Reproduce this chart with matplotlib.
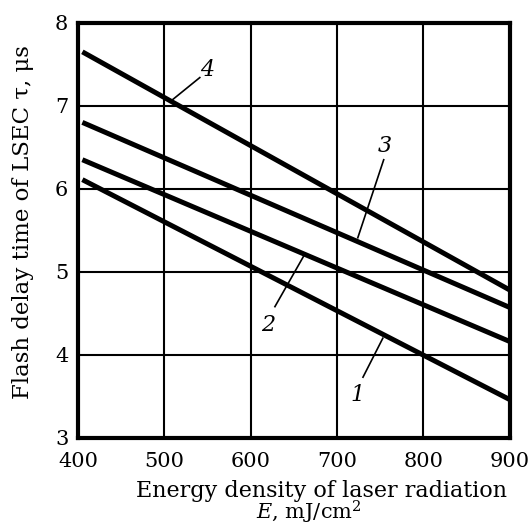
import matplotlib
matplotlib.use("Agg")
import matplotlib.pyplot as plt

plt.rcParams['font.family'] = ['DejaVu Serif']
plt.rcParams['mathtext.fontset'] = 'dejavuserif'

# energy density endpoints of each straight line, mJ/cm^2
energy = [405, 900]
# flash delay time at each endpoint, us
curve1 = [6.11, 3.46]
curve2 = [6.35, 4.16]
curve3 = [6.80, 4.57]
curve4 = [7.65, 4.78]
curves = [curve1, curve2, curve3, curve4]
names = ['1', '2', '3', '4']

# label text position and leader line (from label to curve)
label_xy = [(724, 3.52), (620, 4.36), (755, 6.51), (549, 7.43)]
leader_from = [(730, 3.73), (628, 4.58), (754, 6.35), (541, 7.34)]
leader_to = [(753, 4.20), (663, 5.22), (724, 5.41), (509, 7.07)]

xticks = [400, 500, 600, 700, 800, 900]
yticks = [3, 4, 5, 6, 7, 8]

fig = plt.figure(figsize=(5.31, 5.30), dpi=100)
ax = fig.add_axes([0.147, 0.174, 0.813, 0.783])

for y in curves:
    ax.plot(energy, y, color='black', linewidth=3.6, solid_capstyle='butt')

for name, (lx, ly), (fx, fy), (tx, ty) in zip(names, label_xy, leader_from, leader_to):
    ax.plot([fx, tx], [fy, ty], color='black', linewidth=1.2)
    ax.text(lx, ly, name, fontsize=16, fontstyle='italic', ha='center', va='center')

ax.set_xlim(400, 900)
ax.set_ylim(3, 8)
ax.set_xticks(xticks)
ax.set_yticks(yticks)
ax.grid(True, color='black', linewidth=1.5)
ax.tick_params(length=0, labelsize=15)
ax.tick_params(axis='x', pad=10)
ax.tick_params(axis='y', pad=7)
for s in ax.spines.values():
    s.set_linewidth(3)

fig.text(321 / 531, 1 - 497 / 530, 'Energy density of laser radiation',
         fontsize=16, ha='center', va='baseline')
fig.text(309 / 531, 1 - 520 / 530, '$E$, mJ/cm$^2$',
         fontsize=15, ha='center', va='baseline')
fig.text(23 / 531, 1 - 222 / 530, 'Flash delay time of LSEC τ, μs',
         fontsize=16.5, ha='center', va='center', rotation=90)

fig.savefig('out.png', dpi=100)
